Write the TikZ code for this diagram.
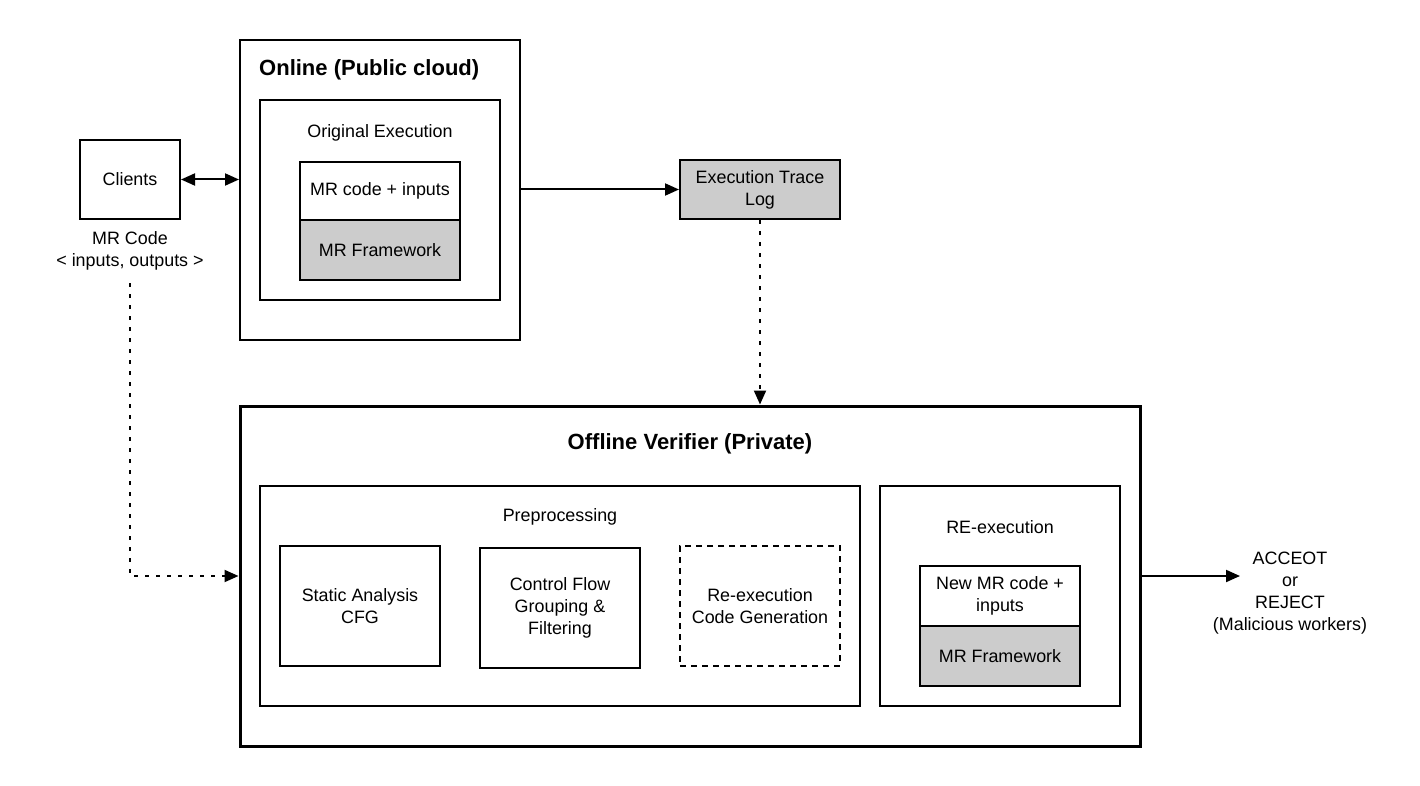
\documentclass[tikz,border=0pt]{standalone}
\usepackage{fontspec}
\setmainfont{Liberation Sans}
\usetikzlibrary{arrows.meta,calc}
\definecolor{boxgrey}{HTML}{CCCCCC}
\tikzset{
  x=1pt, y=-1pt,
  every node/.style={font=\fontsize{17.9}{22}\selectfont, inner sep=0pt, align=center},
  box/.style={draw=black, line width=2pt, fill=white},
  greybox/.style={box, fill=boxgrey},
  dbox/.style={draw=black, line width=2pt, dash pattern=on 6pt off 5pt},
  bigbox/.style={draw=black, line width=3pt},
  conn/.style={line width=2pt, -{Triangle[length=14pt,width=12pt]}},
  dotconn/.style={conn, dash pattern=on 4pt off 7pt},
  titlefont/.style={font=\fontsize{22}{26}\selectfont\bfseries}
}
\begin{document}
\begin{tikzpicture}
\useasboundingbox (0,0) rectangle (1420,786);
% Clients
\node[box, minimum width=100pt, minimum height=79pt] (clients) at (130,179.5) {Clients};
\node (mrcode) at (130,250.5) {MR Code\\\textless\ inputs, outputs \textgreater};
% Online
\node[box, minimum width=280pt, minimum height=300pt] (online) at (380,190) {};
\node[titlefont, anchor=west] (onlinet) at (259,70) {Online (Public cloud)};
\node[box, minimum width=240pt, minimum height=200pt] (orig) at (380,200) {};
\node (origt) at (380,133) {Original Execution};
\node[box, minimum width=160pt, minimum height=58pt] (mrci) at (380,191) {MR code + inputs};
\node[greybox, minimum width=160pt, minimum height=60pt] (mrfw) at (380,250) {MR Framework};
% Execution trace
\node[greybox, minimum width=160pt, minimum height=59pt] (etl) at (760,189.5) {Execution Trace\\Log};
% Offline
\node[bigbox, minimum width=900pt, minimum height=340pt] (offline) at (690,576) {};
\node[titlefont] (offlinet) at (690,444) {Offline Verifier (Private)};
\node[box, minimum width=600pt, minimum height=220pt] (pre) at (560,596) {};
\node (pret) at (560,517) {Preprocessing};
\node[box, minimum width=160pt, minimum height=120pt] (sa) at (360,606) {Static Analysis\\CFG};
\node[box, minimum width=160pt, minimum height=120pt] (cf) at (560,608) {Control Flow\\Grouping \&\\Filtering};
\node[dbox, minimum width=160pt, minimum height=120pt] (rcg) at (760,606) {Re-execution\\Code Generation};
\node[box, minimum width=240pt, minimum height=220pt] (reex) at (1000,596) {};
\node (reext) at (1000,527) {RE-execution};
\node[box, minimum width=160pt, minimum height=60pt] (newmr) at (1000,596) {New MR code +\\inputs};
\node[greybox, minimum width=160pt, minimum height=60pt] (mrfw2) at (1000,656) {MR Framework};
% Result
\node (result) at (1290,593) {ACCEOT\\or\\REJECT\\(Malicious workers)};
\coordinate (resend) at (1240,576);
\coordinate (mrstart) at (130,283);
% Connectors
\draw[line width=2pt, {Triangle[length=14pt,width=12pt]}-{Triangle[length=14pt,width=12pt]}] (clients.east) -- (clients.east -| online.west);
\draw[conn] (etl.west -| online.east) -- (etl.west);
\draw[dotconn] (etl.south) -- (etl.south |- offline.north);
\draw[dotconn] (mrstart) |- (offline.west);
\draw[conn] (offline.east) -- (resend);
\end{tikzpicture}
\end{document}
